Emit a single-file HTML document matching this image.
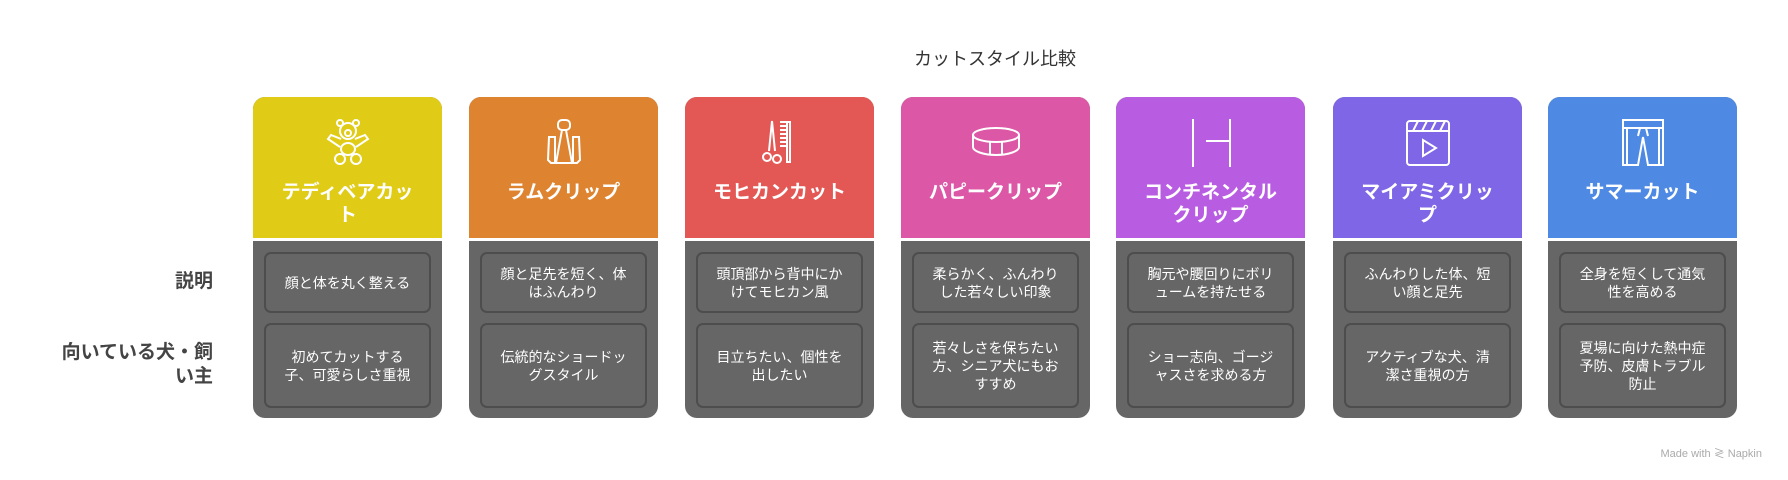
<!DOCTYPE html>
<html><head><meta charset="utf-8"><style>
*{margin:0;padding:0;box-sizing:border-box}
body{width:1788px;height:480px;background:#fff;position:relative;overflow:hidden;font-family:"Liberation Sans","Noto Sans CJK JP",sans-serif}
.title{position:absolute;left:0;width:1990px;top:45px;text-align:center;font-size:18px;color:#333}
.lab{position:absolute;right:1575px;text-align:right;font-weight:bold;font-size:19px;color:#444;line-height:24px}
.col{position:absolute;top:97px;width:189px;height:321px;border-radius:12px;overflow:hidden;background:#666}
.hd{position:absolute;left:0;top:0;width:189px;height:141px}
.sep{position:absolute;left:0;top:141px;width:189px;height:3px;background:#fff}
.ic{position:absolute;left:70px;top:20px;width:50px;height:50px}
.ht{position:absolute;left:0;width:189px;top:84px;text-align:center;color:#fff;font-weight:bold;font-size:19px;line-height:23px}
.bx{position:absolute;left:11px;width:167px;border:2px solid #4d4d4d;border-radius:7px;background:#666;color:#fff;font-size:14px;line-height:18px;text-align:center;display:flex;align-items:center;justify-content:center;padding:0 14px}
.b1{top:155px;height:61px}
.b2{top:226px;height:85px}
.nap{position:absolute;right:26px;top:445px;font-size:11px;color:#aaa}
</style></head><body>
<div class="title">カットスタイル比較</div>
<div class="lab" style="top:270px">説明</div>
<div class="lab" style="top:341px">向いている犬・飼<br>い主</div>

<div class="col" style="left:253px"><div class="hd" style="background:#E0CB16"></div><div class="sep"></div>
<svg class="ic" viewBox="0 0 50 50" fill="none" stroke="#fff" stroke-width="2"><circle cx="25" cy="14" r="8"/><circle cx="17" cy="6" r="3"/><circle cx="33" cy="6" r="3"/><circle cx="25" cy="16" r="3"/><path d="M18 22l-10 -4-3 4 12 8M32 22l10-4 3 4-12 8"/><ellipse cx="25" cy="32" rx="7" ry="6"/><circle cx="17" cy="42" r="5"/><circle cx="33" cy="42" r="5"/></svg>
<div class="ht">テディベアカッ<br>ト</div>
<div class="bx b1">顔と体を丸く整える</div><div class="bx b2">初めてカットする子、可愛らしさ重視</div></div>

<div class="col" style="left:469px"><div class="hd" style="background:#DE8431"></div><div class="sep"></div>
<svg class="ic" viewBox="0 0 50 50" fill="none" stroke="#fff" stroke-width="2"><rect x="19" y="3" width="12" height="10" rx="4"/><path d="M23 13L17 46M27 13l6 33M10 20h6v26h-4l-3-3zM40 20h-6v26h4l3-3zM12 46h26"/></svg>
<div class="ht">ラムクリップ</div>
<div class="bx b1">顔と足先を短く、体はふんわり</div><div class="bx b2">伝統的なショードッグスタイル</div></div>

<div class="col" style="left:685px"><div class="hd" style="background:#E35855"></div><div class="sep"></div>
<svg class="ic" viewBox="0 0 50 50" fill="none" stroke="#fff" stroke-width="2"><path d="M17 4l-3 30M17 4l3 30"/><circle cx="12" cy="40" r="4"/><circle cx="22" cy="42" r="4"/><path d="M25 5h10v40h-3V5M25 9h7M25 13h7M25 17h7M25 21h7M25 25h7M25 29h7"/></svg>
<div class="ht">モヒカンカット</div>
<div class="bx b1">頭頂部から背中にかけてモヒカン風</div><div class="bx b2">目立ちたい、個性を出したい</div></div>

<div class="col" style="left:901px"><div class="hd" style="background:#DC58A7"></div><div class="sep"></div>
<svg class="ic" viewBox="0 0 50 50" fill="none" stroke="#fff" stroke-width="2"><ellipse cx="25" cy="18" rx="23" ry="7"/><path d="M2 18v12c0 4 10 8 23 8s23-4 23-8V18M19 25v13M31 25v13"/></svg>
<div class="ht">パピークリップ</div>
<div class="bx b1">柔らかく、ふんわりした若々しい印象</div><div class="bx b2">若々しさを保ちたい方、シニア犬にもおすすめ</div></div>

<div class="col" style="left:1116px"><div class="hd" style="background:#B85DE1"></div><div class="sep"></div>
<svg class="ic" viewBox="0 0 50 50" fill="none" stroke="#fff" stroke-width="2"><path d="M7 2v48M44 2v48M20 24h24"/></svg>
<div class="ht">コンチネンタル<br>クリップ</div>
<div class="bx b1">胸元や腰回りにボリュームを持たせる</div><div class="bx b2">ショー志向、ゴージャスさを求める方</div></div>

<div class="col" style="left:1333px"><div class="hd" style="background:#7E66E6"></div><div class="sep"></div>
<svg class="ic" viewBox="0 0 50 50" fill="none" stroke="#fff" stroke-width="2"><rect x="4" y="4" width="42" height="44" rx="3"/><path d="M4 14h42M10 14l5-10M19 14l5-10M28 14l5-10M37 14l5-10M20 23v16l13-8z"/></svg>
<div class="ht">マイアミクリッ<br>プ</div>
<div class="bx b1">ふんわりした体、短い顔と足先</div><div class="bx b2">アクティブな犬、清潔さ重視の方</div></div>

<div class="col" style="left:1548px"><div class="hd" style="background:#4E89E3"></div><div class="sep"></div>
<svg class="ic" viewBox="0 0 50 50" fill="none" stroke="#fff" stroke-width="2"><path d="M5 3h40v8H5zM5 11v37h15l5-28 5 28h15V11M9 11v37M41 11v37M22 11l-2 8M28 11l2 8"/></svg>
<div class="ht">サマーカット</div>
<div class="bx b1">全身を短くして通気性を高める</div><div class="bx b2">夏場に向けた熱中症予防、皮膚トラブル防止</div></div>

<div class="nap">Made with ≷ Napkin</div>
</body></html>
